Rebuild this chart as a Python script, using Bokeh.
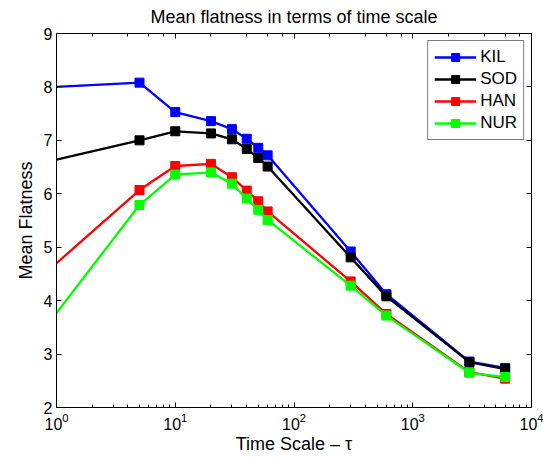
from bokeh.plotting import figure
from bokeh.models import LinearAxis, LogAxis, Range1d, Legend, LegendItem, FixedTicker, CustomJSTickFormatter
from bokeh.embed import file_html
from bokeh.resources import INLINE

tau = [1, 5, 10, 20, 30, 40, 50, 60, 300, 600, 3000, 6000]
kil = [8.00, 8.08, 7.53, 7.36, 7.21, 7.03, 6.86, 6.72, 4.92, 4.12, 2.86, 2.74]
sod = [6.64, 7.00, 7.17, 7.13, 7.02, 6.84, 6.67, 6.51, 4.81, 4.08, 2.85, 2.72]
han = [4.70, 6.07, 6.52, 6.56, 6.31, 6.06, 5.86, 5.67, 4.36, 3.75, 2.66, 2.54]
nur = [3.77, 5.79, 6.36, 6.40, 6.19, 5.91, 5.70, 5.51, 4.28, 3.72, 2.65, 2.57]
names = ["KIL", "SOD", "HAN", "NUR"]
colors = ["#0000ff", "#000000", "#ff0000", "#00ff00"]
y_ticks = [2, 3, 4, 5, 6, 7, 8, 9]

FONT = "Liberation Sans"

p = figure(width=543, height=462, x_axis_type="log",
           x_range=Range1d(1, 10000), y_range=Range1d(2, 9),
           output_backend="svg", toolbar_location=None,
           min_border_left=56, min_border_right=12, min_border_top=33, min_border_bottom=55)
p.title.text = "Mean flatness in terms of time scale"
p.title.text_font = FONT
p.title.text_font_size = "18px"
p.title.text_font_style = "normal"
p.title.text_color = "black"
p.title.align = "center"
p.title.standoff = 5
p.grid.visible = False
p.outline_line_color = "black"
p.outline_line_width = 1
p.background_fill_color = "white"
p.border_fill_color = "white"

p.yaxis.ticker = FixedTicker(ticks=y_ticks)
p.xaxis.axis_label = "Time Scale – τ"
p.yaxis.axis_label = "Mean Flatness"

for ax in [p.xaxis[0], p.yaxis[0]]:
    ax.major_tick_in = 5
    ax.major_tick_out = 0
    ax.minor_tick_in = 3
    ax.minor_tick_out = 0
    ax.major_label_text_font = FONT
    ax.major_label_text_font_size = "16px"
    ax.major_label_text_color = "black"
    ax.axis_label_text_font = FONT
    ax.axis_label_text_font_size = "18px"
    ax.axis_label_text_font_style = "normal"
    ax.axis_label_text_color = "black"
p.yaxis.minor_tick_line_color = None
p.xaxis.axis_label_standoff = 1
p.yaxis.axis_label_standoff = 5
p.xaxis.major_label_standoff = 5
p.yaxis.major_label_standoff = 4

top = LogAxis(formatter=CustomJSTickFormatter(code="return ' ';"), major_tick_in=5, major_tick_out=0,
              minor_tick_in=3, minor_tick_out=0, major_label_text_font_size="1px",
              major_label_standoff=0, axis_label_standoff=0)
right = LinearAxis(ticker=FixedTicker(ticks=y_ticks), formatter=CustomJSTickFormatter(code="return ' ';"),
                   major_tick_in=5, major_tick_out=0, minor_tick_line_color=None,
                   major_label_text_font_size="1px", major_label_standoff=0, axis_label_standoff=0)
p.add_layout(top, "above")
p.add_layout(right, "right")

items = []
for name, vals, c in zip(names, [kil, sod, han, nur], colors):
    l = p.line(tau, vals, line_color=c, line_width=2.3)
    s = p.scatter(tau[1:], vals[1:], marker="square", size=9, fill_color=c, line_color=c)
    items.append(LegendItem(label=name, renderers=[l, s]))

legend = Legend(items=items, location="top_right")
legend.label_text_font = FONT
legend.label_text_font_size = "17px"
legend.label_text_color = "black"
legend.border_line_color = "black"
legend.border_line_width = 1
legend.margin = 7
legend.padding = 6
legend.spacing = 2
legend.glyph_width = 42
legend.glyph_height = 20
legend.label_height = 20
legend.label_standoff = 4
legend.background_fill_alpha = 1
p.add_layout(legend)

open("out.html", "w").write(file_html(p, INLINE))
